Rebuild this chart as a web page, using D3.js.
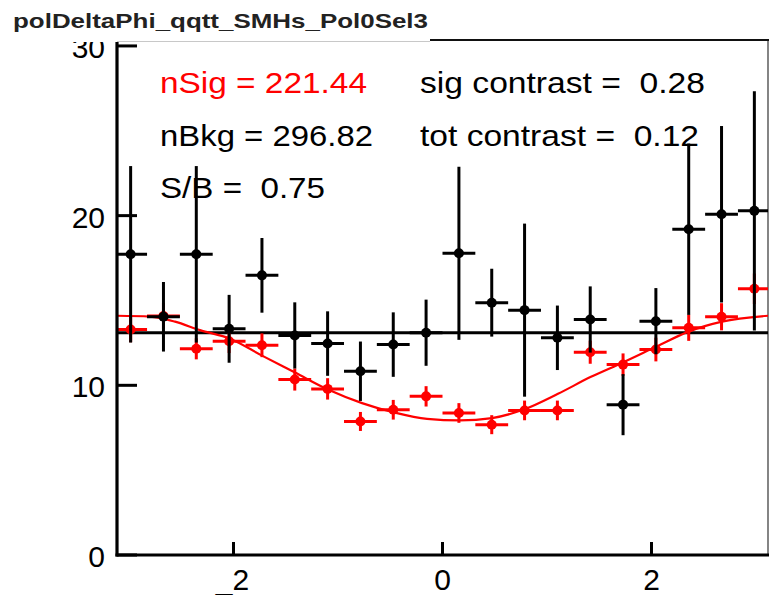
<!DOCTYPE html>
<html>
<head>
<meta charset="utf-8">
<script src="https://cdn.jsdelivr.net/npm/d3@7"></script>
<style>
  html, body { margin: 0; padding: 0; background: #fff; }
  svg { display: block; font-family: "Liberation Sans", Arial, Helvetica, sans-serif; }
  text { white-space: pre; }
</style>
</head>
<body>
<svg id="chart" width="770" height="595"></svg>
<script>
// Histogram: 20 bins in delta-phi from -pi to pi
const nBins = 20;
const phiMin = -Math.PI, phiMax = Math.PI;

// Background-like data (black)
const bkgValues = [17.72, 14.04, 17.72, 13.33, 16.48, 12.94, 12.46, 10.83, 12.40, 13.10,
                   17.78, 14.87, 14.43, 12.80, 13.88, 8.86, 13.78, 19.20, 20.08, 20.28];
const bkgErrors = [5.2, 2.05, 5.2, 2.0, 2.2, 1.95, 1.9, 1.75, 1.9, 1.95,
                   5.1, 2.0, 5.1, 1.9, 1.95, 1.8, 1.95, 5.05, 5.2, 7.05];

// Signal-like data (red)
const sigValues = [13.29, 14.08, 12.15, 12.60, 12.36, 10.34, 9.79, 7.87, 8.56, 9.35,
                   8.37, 7.68, 8.52, 8.52, 11.95, 11.22, 12.11, 13.39, 14.04, 15.69];
const sigErrors = [0.75, 0.78, 0.62, 0.7, 0.7, 0.65, 0.63, 0.56, 0.58, 0.6,
                   0.58, 0.56, 0.58, 0.58, 0.68, 0.66, 0.7, 0.77, 0.8, 0.9];

// Flat reference level
const flatLevel = [13.1];

// Fitted signal shape, sampled along delta-phi
const fitPhi = [-3.115, -2.799, -2.560, -2.321, -2.033, -1.727, -1.411, -1.096, -0.770, -0.464,
                -0.148, 0.167, 0.474, 0.789, 1.105, 1.421, 1.727, 2.053, 2.349, 2.675, 3.115];
const fitVal = [14.10, 14.05, 13.75, 13.25, 12.75, 11.75, 10.75, 9.75, 8.95, 8.40,
                8.02, 7.93, 8.07, 8.60, 9.50, 10.50, 11.35, 12.30, 13.15, 13.75, 14.10];

// Axis ticks
const xTicks = [-2, 0, 2];
const yTicks = [0, 10, 20, 30];

// Summary text
const statsLeft = [
  { text: "nSig = 221.44", color: "#ff0000", len: 207 },
  { text: "nBkg = 296.82", color: "#000000", len: 213 },
  { text: "S/B =  0.75", color: "#000000", len: 165 }
];
const statsRight = [
  { text: "sig contrast =  0.28", color: "#000000", len: 285 },
  { text: "tot contrast =  0.12", color: "#000000", len: 279 }
];
const titleText = "polDeltaPhi_qqtt_SMHs_Pol0Sel3";

const svg = d3.select("#chart");
const frame = { left: 117, right: 768, top: 40, bottom: 555 };

const x = d3.scaleLinear().domain([-3.115, 3.115]).range([frame.left, frame.right]);
const y = d3.scaleLinear().domain([0, 30.35]).range([frame.bottom, frame.top]);

const binW = (phiMax - phiMin) / nBins;
const centers = d3.range(nBins).map(i => phiMin + (i + 0.5) * binW);

svg.append("defs").append("clipPath").attr("id", "frameClip")
  .append("rect")
  .attr("x", frame.left).attr("y", frame.top)
  .attr("width", frame.right - frame.left).attr("height", frame.bottom - frame.top);

// Frame box (right edge)
svg.append("line")
  .attr("x1", frame.right).attr("x2", frame.right)
  .attr("y1", frame.top).attr("y2", frame.bottom)
  .attr("stroke", "#333").attr("stroke-width", 1.2);

const plot = svg.append("g").attr("clip-path", "url(#frameClip)");

// Flat level
plot.selectAll("line.flat").data(flatLevel).join("line")
  .attr("class", "flat")
  .attr("x1", frame.left).attr("x2", frame.right)
  .attr("y1", d => y(d)).attr("y2", d => y(d))
  .attr("stroke", "#000").attr("stroke-width", 3);

// Fit curve
const fitData = fitPhi.map((p, i) => [p, fitVal[i]]);
plot.append("path")
  .datum(fitData)
  .attr("fill", "none")
  .attr("stroke", "#ff0000")
  .attr("stroke-width", 2.2)
  .attr("d", d3.line().x(d => x(d[0])).y(d => y(d[1])).curve(d3.curveMonotoneX));

function drawPoints(vals, errs, color, cls) {
  const data = vals.map((v, i) => ({ c: centers[i], v, e: errs[i] }));
  const g = plot.append("g").attr("class", cls);
  g.selectAll("line.h").data(data).join("line")
    .attr("class", "h")
    .attr("x1", d => x(d.c - binW / 2)).attr("x2", d => x(d.c + binW / 2))
    .attr("y1", d => y(d.v)).attr("y2", d => y(d.v))
    .attr("stroke", color).attr("stroke-width", 3);
  g.selectAll("line.v").data(data).join("line")
    .attr("class", "v")
    .attr("x1", d => x(d.c)).attr("x2", d => x(d.c))
    .attr("y1", d => y(d.v - d.e)).attr("y2", d => y(d.v + d.e))
    .attr("stroke", color).attr("stroke-width", 3);
  g.selectAll("circle").data(data).join("circle")
    .attr("cx", d => x(d.c)).attr("cy", d => y(d.v))
    .attr("r", 5).attr("fill", color);
}

drawPoints(sigValues, sigErrors, "#ff0000", "sig");
drawPoints(bkgValues, bkgErrors, "#000000", "bkg");

// Axes
const xAxis = svg.append("g").attr("transform", `translate(0,${frame.bottom})`);
xAxis.append("line")
  .attr("x1", frame.left - 1.5).attr("x2", frame.right + 1)
  .attr("y1", 0).attr("y2", 0)
  .attr("stroke", "#000").attr("stroke-width", 3.2);
xAxis.selectAll("line.tick").data(xTicks).join("line")
  .attr("class", "tick")
  .attr("x1", d => x(d)).attr("x2", d => x(d))
  .attr("y1", 0).attr("y2", -13)
  .attr("stroke", "#000").attr("stroke-width", 3);
// Negative labels carry a low dash in front of the digits
xAxis.selectAll("text").data(xTicks).join("text")
  .attr("x", d => x(d) + (d < 0 ? -1 : 0))
  .attr("y", 35)
  .attr("text-anchor", "middle")
  .attr("font-size", 30)
  .attr("fill", "#000")
  .text(d => d < 0 ? "_" + Math.abs(d) : String(d));

const yAxis = svg.append("g").attr("transform", `translate(${frame.left},0)`);
yAxis.append("line")
  .attr("x1", 0).attr("x2", 0)
  .attr("y1", frame.top).attr("y2", frame.bottom + 1.5)
  .attr("stroke", "#000").attr("stroke-width", 3.2);
yAxis.selectAll("line.tick").data(yTicks).join("line")
  .attr("class", "tick")
  .attr("x1", 0).attr("x2", 20)
  .attr("y1", d => y(d)).attr("y2", d => y(d))
  .attr("stroke", "#000").attr("stroke-width", 3);
yAxis.selectAll("text").data(yTicks).join("text")
  .attr("x", -12)
  .attr("y", d => y(d) + 12)
  .attr("text-anchor", "end")
  .attr("font-size", 30)
  .attr("fill", "#000")
  .text(d => String(d));

// Title pave (drawn over the top of the frame)
svg.append("rect")
  .attr("x", 0).attr("y", 0).attr("width", 430).attr("height", 42)
  .attr("fill", "#fff");
svg.append("line")
  .attr("x1", frame.left).attr("x2", 430)
  .attr("y1", 41.5).attr("y2", 41.5)
  .attr("stroke", "#c8c8c8").attr("stroke-width", 1);
svg.append("line")
  .attr("x1", 430).attr("x2", frame.right + 1)
  .attr("y1", frame.top).attr("y2", frame.top)
  .attr("stroke", "#111").attr("stroke-width", 2.2);
svg.append("text")
  .attr("x", 13).attr("y", 28)
  .attr("font-size", 21)
  .attr("font-weight", "bold")
  .attr("fill", "#222")
  .attr("textLength", 415)
  .attr("lengthAdjust", "spacingAndGlyphs")
  .text(titleText);

// Fit summary
svg.selectAll("text.statL").data(statsLeft).join("text")
  .attr("class", "statL")
  .attr("x", 160)
  .attr("y", (d, i) => 93 + i * 52.5)
  .attr("font-size", 30)
  .attr("fill", d => d.color)
  .attr("textLength", d => d.len)
  .attr("lengthAdjust", "spacingAndGlyphs")
  .text(d => d.text);
svg.selectAll("text.statR").data(statsRight).join("text")
  .attr("class", "statR")
  .attr("x", 420)
  .attr("y", (d, i) => 93 + i * 52.5)
  .attr("font-size", 30)
  .attr("fill", d => d.color)
  .attr("textLength", d => d.len)
  .attr("lengthAdjust", "spacingAndGlyphs")
  .text(d => d.text);
</script>
</body>
</html>
